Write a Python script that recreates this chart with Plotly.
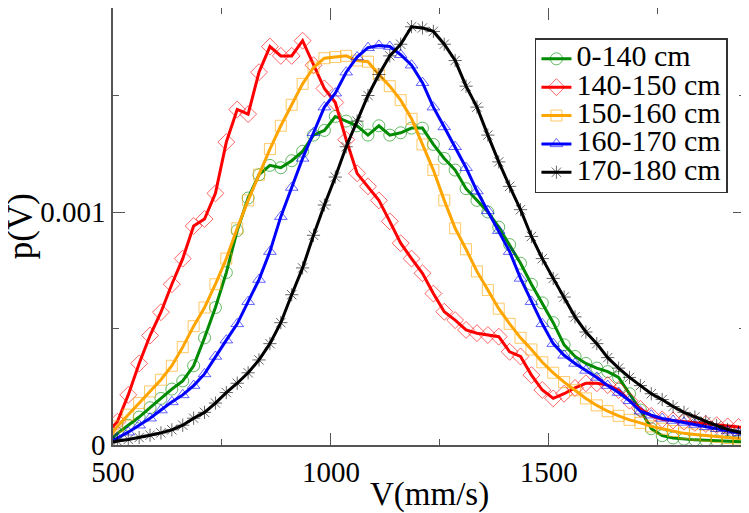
import plotly.graph_objects as go

# velocity bins (mm/s)
v = [485 + 25 * k for k in range(60)]

# p(V) in units of 1e-3
p_0_140 = [0.005, 0.05, 0.085, 0.12, 0.16, 0.20, 0.24, 0.275, 0.34, 0.46,
           0.59, 0.74, 0.92, 1.06, 1.16, 1.20, 1.19, 1.22, 1.26, 1.33,
           1.35, 1.41, 1.39, 1.37, 1.33, 1.37, 1.33, 1.34, 1.36, 1.36,
           1.29, 1.23, 1.18, 1.10, 1.05, 1.00, 0.935, 0.86, 0.78, 0.69,
           0.61, 0.525, 0.43, 0.38, 0.35, 0.33, 0.315, 0.29, 0.22, 0.15,
           0.07, 0.04, 0.03, 0.025, 0.022, 0.02, 0.018, 0.016, 0.014, 0.012]

p_140_150 = [0.05, 0.10, 0.215, 0.35, 0.47, 0.57, 0.69, 0.80, 0.94, 0.97,
             1.08, 1.30, 1.44, 1.42, 1.60, 1.71, 1.67, 1.67, 1.735, 1.63,
             1.53, 1.47, 1.31, 1.166, 1.11, 1.05, 0.96, 0.866, 0.80, 0.737,
             0.65, 0.572, 0.536, 0.494, 0.48, 0.472, 0.465, 0.40, 0.38, 0.30,
             0.236, 0.20, 0.22, 0.245, 0.265, 0.265, 0.257, 0.236, 0.19, 0.155,
             0.125, 0.11, 0.105, 0.10, 0.095, 0.09, 0.085, 0.08, 0.077, 0.075]

p_150_160 = [0.02, 0.08, 0.13, 0.18, 0.23, 0.28, 0.34, 0.42, 0.51, 0.59,
             0.69, 0.80, 0.93, 1.05, 1.16, 1.27, 1.37, 1.46, 1.55, 1.62,
             1.66, 1.665, 1.67, 1.65, 1.645, 1.59, 1.54, 1.48, 1.40, 1.29,
             1.18, 1.05, 0.93, 0.84, 0.745, 0.665, 0.585, 0.52, 0.46, 0.41,
             0.355, 0.31, 0.27, 0.235, 0.20, 0.17, 0.145, 0.125, 0.108, 0.095,
             0.08, 0.07, 0.06, 0.05, 0.045, 0.04, 0.035, 0.03, 0.028, 0.025]

p_160_170 = [0.0, 0.03, 0.055, 0.085, 0.115, 0.15, 0.185, 0.215, 0.255, 0.305,
             0.38, 0.45, 0.52, 0.615, 0.71, 0.83, 0.98, 1.105, 1.23, 1.34,
             1.45, 1.51, 1.60, 1.665, 1.705, 1.715, 1.71, 1.675, 1.63, 1.555,
             1.45, 1.365, 1.28, 1.19, 1.09, 1.005, 0.92, 0.83, 0.715, 0.615,
             0.52, 0.435, 0.385, 0.35, 0.32, 0.29, 0.255, 0.225, 0.19, 0.145,
             0.128, 0.114, 0.105, 0.097, 0.088, 0.078, 0.07, 0.06, 0.052, 0.045]

p_170_180 = [0.005, 0.017, 0.024, 0.032, 0.042, 0.052, 0.065, 0.085, 0.115, 0.14,
             0.18, 0.225, 0.265, 0.31, 0.365, 0.435, 0.525, 0.645, 0.76, 0.90,
             1.03, 1.15, 1.28, 1.39, 1.50, 1.59, 1.67, 1.72, 1.795, 1.79,
             1.775, 1.72, 1.65, 1.54, 1.45, 1.33, 1.215, 1.11, 1.01, 0.895,
             0.80, 0.715, 0.635, 0.55, 0.485, 0.435, 0.375, 0.33, 0.29, 0.255,
             0.22, 0.195, 0.165, 0.14, 0.12, 0.10, 0.083, 0.067, 0.055, 0.046]

names = ["0-140 cm", "140-150 cm", "150-160 cm", "160-170 cm", "170-180 cm"]
series = [p_0_140, p_140_150, p_150_160, p_160_170, p_170_180]
colors = ["#008b00", "#ff0000", "#ffa500", "#0000ff", "#000000"]
symbols = ["circle-open", "diamond-open", "square-open", "triangle-up-open", "asterisk-open"]
msizes = [12, 13, 11, 11, 11]

x_ticks = [500, 1000, 1500]
y_ticks = [0, 1]
y_ticktext = ["0", "0.001"]

FONT = "Liberation Serif, Times New Roman, Times, DejaVu Serif, serif"

fig = go.Figure()
for name, ys, c, s, ms in zip(names, series, colors, symbols, msizes):
    fig.add_trace(go.Scatter(
        x=v, y=ys, mode="lines+markers",
        name="<span style='font-size:30px'>" + name + "</span>",
        line=dict(color=c, width=3),
        marker=dict(symbol=s, size=ms, color=c, opacity=0.6, line=dict(width=1, color=c)),
    ))

axis_common = dict(
    showline=True, linecolor="#555", linewidth=1.5, mirror="ticks",
    ticks="inside", ticklen=12, tickwidth=1, tickcolor="#555",
    showgrid=False, zeroline=False, automargin=False,
    tickfont=dict(family=FONT, size=29, color="black"),
)

fig.update_layout(
    width=741, height=505,
    margin=dict(l=105, r=4, t=0, b=68),
    paper_bgcolor="white", plot_bgcolor="white",
    font=dict(family=FONT, color="black"),
    xaxis=dict(range=[500, 1950], tickvals=x_ticks,
               minor=dict(ticks="inside", ticklen=6, dtick=250, tick0=500, tickcolor="#555"),
               **axis_common),
    yaxis=dict(range=[0, 1.8755], tickvals=y_ticks, ticktext=y_ticktext,
               minor=dict(ticks="inside", ticklen=6, dtick=0.5, tick0=0, tickcolor="#555"),
               **axis_common),
    annotations=[
        dict(text="V(mm/s)", xref="paper", yref="paper", x=0.5, y=-0.114,
             xanchor="center", yanchor="middle", showarrow=False,
             font=dict(family=FONT, size=33, color="black")),
        dict(text="p(V)", xref="paper", yref="paper", x=-0.146, y=0.5,
             xanchor="center", yanchor="middle", textangle=-90, showarrow=False,
             font=dict(family=FONT, size=35, color="black")),
    ],
    legend=dict(x=0.973, y=0.931, xanchor="right", yanchor="top",
                bgcolor="white", bordercolor="#333", borderwidth=1.5,
                font=dict(family=FONT, size=19.5, color="black"),
                itemwidth=30, tracegroupgap=0),
    showlegend=True,
)

fig.write_html("out.html")
